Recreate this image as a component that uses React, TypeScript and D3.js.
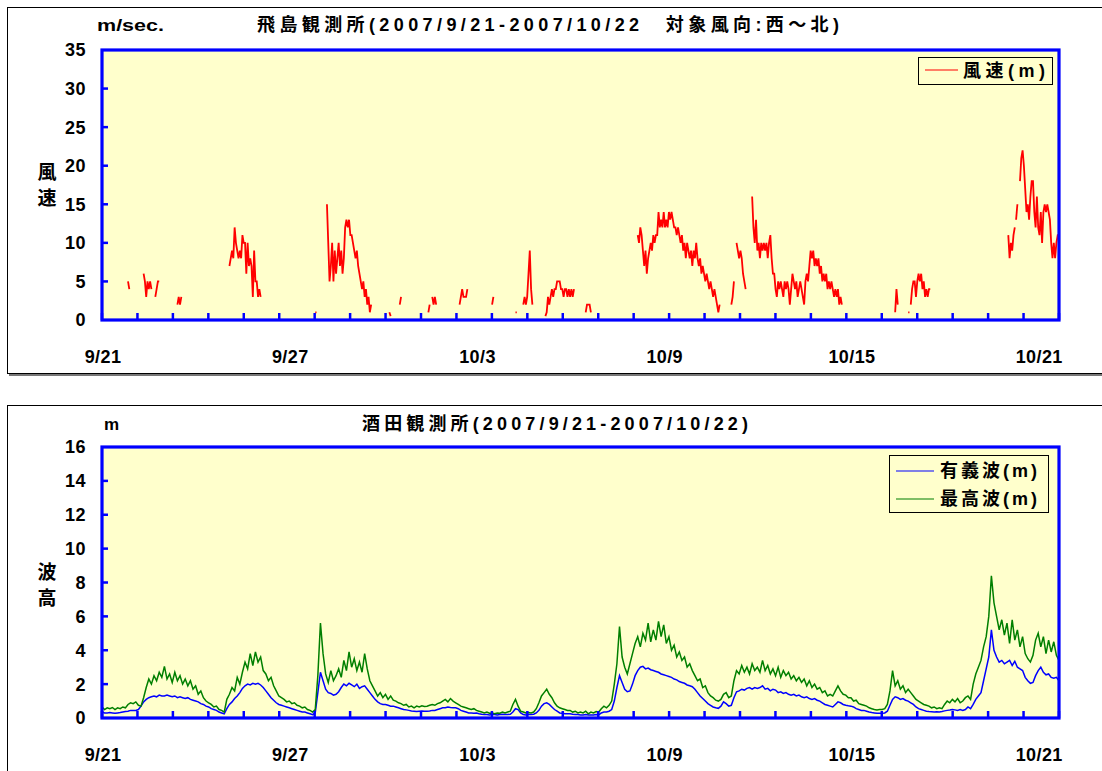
import React from 'react';
import * as d3 from 'd3';

// ---------- data ----------
const HOURS_END = 736; // hours from 2007/9/21 00:00 shown on the axis
const dateLabels = ['9/21', '9/27', '10/3', '10/9', '10/15', '10/21'];
const dateLabelHours = [0, 144, 288, 432, 576, 720];
const windTicks = [0, 5, 10, 15, 20, 25, 30, 35];
const waveTicks = [0, 2, 4, 6, 8, 10, 12, 14, 16];
const TICK_INTERVALS = 27;

// wind speed (m/s), hourly, only for the target wind direction: [startHour, values]
const windSegments: [number, number[]][] = [
  [20, [5, 4]],
  [32, [6, 5, 3, 5, 4, 5, 4]],
  [41, [3, 4, 5, 5]],
  [58, [2, 3, 2, 3]],
  [98, [7, 8, 9, 8, 12, 10, 9, 8, 9, 8, 11, 10, 10, 6, 10, 7, 8, 7, 3, 9, 5, 5, 3, 4, 3]],
  [164, [1, 1]],
  [173, [15, 10, 5, 7, 10, 5, 9, 6, 8, 10, 7, 9, 6, 8, 12, 13, 12, 13, 11, 11, 10, 9, 8, 9, 7, 6, 5, 4, 5, 3, 4, 2, 3, 1, 2]],
  [221, [1, 0.5]],
  [229, [2, 3]],
  [251, [1, 2]],
  [254, [3, 2, 3, 2]],
  [275, [2, 3, 4, 3, 3, 3, 4]],
  [300, [2, 3]],
  [318, [1, 1]],
  [324, [2, 3, 2, 3, 6, 9, 4, 2]],
  [341, [0.5, 1, 3, 2, 3, 4, 3, 4, 4, 5, 5, 5, 4, 4, 3, 4, 4, 3, 4, 3, 4, 3, 4]],
  [372, [1, 2, 2, 2, 1]],
  [412, [11, 10, 12, 11, 9, 7, 9, 6, 8, 9, 10, 9, 11, 10, 11, 11, 14, 12, 13, 12, 14, 12, 13, 12, 14, 13, 14, 13, 12, 12, 11, 12, 11, 10, 11, 9, 10, 8, 10, 9, 8, 9, 7, 9, 8, 10, 8, 7, 8, 6, 7, 6, 5, 6, 5, 4, 5, 4, 3, 4, 3, 2, 1, 2]],
  [484, [2, 3, 5]],
  [488, [10, 9, 8, 9, 8, 6, 5, 4]],
  [500, [16, 12, 10, 13, 9, 10, 8, 10, 9, 10, 9, 10, 8, 10, 11, 8, 6,
    6, 4, 3, 5, 4, 5, 4, 3, 5, 4, 5, 4, 2, 4, 6, 5, 4, 5, 3, 4, 5, 4, 3, 2, 5, 6, 5,
    7, 9, 8, 9, 7, 8, 7, 8, 6, 7, 5, 6,
    5, 6, 4, 5, 4, 5, 4, 3, 4, 3, 4, 2, 3, 2]],
  [610, [1, 4, 2]],
  [620, [1, 1]],
  [622, [2, 4, 5, 5, 3, 5, 6, 5, 6, 4, 5, 3, 4, 3, 4, 4]],
  [697, [11, 8, 10, 9, 11, 12]],
  [703, [13, 15]],
  [706, [18, 21, 22, 20, 17, 14, 15, 13, 16, 18, 18, 14, 12, 16, 12, 11, 14, 10, 14, 15, 14, 15, 14, 13, 10, 8, 10, 8, 10, 11, 11]],
];

// significant wave height (m), every 2 hours from 9/21 00:00
const sigWave: number[] = [
  0.35, 0.3, 0.3, 0.32, 0.3, 0.28, 0.3, 0.32, 0.35, 0.38, 0.4, 0.45,
  0.45, 0.45, 0.5, 0.7, 0.95, 1.1, 1.2, 1.25, 1.3, 1.25, 1.35, 1.3,
  1.3, 1.35, 1.3, 1.25, 1.3, 1.2, 1.25, 1.2, 1.15, 1.2, 1.1, 1.05,
  1.0, 0.95, 0.85, 0.8, 0.7, 0.65, 0.55, 0.5, 0.45, 0.35, 0.3, 0.25,
  0.55, 0.8, 0.95, 1.15, 1.3, 1.5, 1.75, 1.9, 2.0, 1.95, 2.05, 2.0,
  2.05, 1.95, 1.8, 1.6, 1.4, 1.2, 1.05, 0.9, 0.8, 0.75, 0.7, 0.65,
  0.6, 0.55, 0.5, 0.45, 0.4, 0.35, 0.35, 0.3, 0.25, 0.2, 0.3, 1.5,
  2.7, 2.2, 1.7, 1.5, 1.45, 1.35, 1.4, 1.55, 1.8, 2.0, 1.9, 2.05,
  1.95, 1.85, 2.0, 1.75, 1.85, 1.9, 1.7, 1.5, 1.3, 1.1, 0.95, 0.85,
  0.8, 0.8, 0.75, 0.7, 0.7, 0.65, 0.6, 0.55, 0.5, 0.48, 0.45, 0.42,
  0.4, 0.38, 0.4, 0.42, 0.4, 0.4, 0.42, 0.45, 0.45, 0.5, 0.55, 0.6,
  0.6, 0.65, 0.62, 0.6, 0.6, 0.55, 0.45, 0.4, 0.35, 0.3, 0.3, 0.28,
  0.3, 0.25, 0.22, 0.2, 0.2, 0.18, 0.2, 0.2, 0.18, 0.2, 0.22, 0.2,
  0.2, 0.22, 0.35, 0.55, 0.5, 0.3, 0.2, 0.18, 0.2, 0.2, 0.22, 0.3,
  0.45, 0.7, 0.85, 0.9, 0.8, 0.65, 0.5, 0.4, 0.3, 0.28, 0.25, 0.25,
  0.25, 0.22, 0.2, 0.2, 0.18, 0.18, 0.2, 0.18, 0.17, 0.18, 0.2, 0.18,
  0.3, 0.35, 0.35, 0.4, 0.5, 1.0, 1.8, 2.5, 2.1, 1.7, 1.55, 1.6,
  2.0, 2.5, 2.8, 3.0, 3.05, 2.9, 2.95, 2.85, 2.8, 2.75, 2.7, 2.6,
  2.55, 2.5, 2.45, 2.4, 2.3, 2.25, 2.15, 2.1, 2.05, 1.95, 1.9, 1.85,
  1.7, 1.5, 1.3, 1.15, 1.0, 0.85, 0.75, 0.65, 0.6, 0.57, 0.7, 0.95,
  0.85, 0.7, 0.75, 1.2, 1.55, 1.6, 1.7, 1.65, 1.75, 1.8, 1.7, 1.8,
  1.75, 1.8, 1.9, 1.7, 1.75, 1.6, 1.7, 1.65, 1.5, 1.55, 1.45, 1.5,
  1.4, 1.35, 1.4, 1.3, 1.35, 1.25, 1.2, 1.25, 1.15, 1.1, 1.15, 1.05,
  1.0, 0.9, 0.8, 0.75, 0.7, 0.65, 0.8, 0.95, 0.9, 0.8, 0.75, 0.72,
  0.7, 0.65, 0.55, 0.5, 0.45, 0.45, 0.4, 0.35, 0.32, 0.3, 0.28, 0.28,
  0.28, 0.3, 0.4, 0.75, 1.1, 1.25, 1.2, 1.1, 1.15, 1.05, 1.0, 0.9,
  0.8, 0.65, 0.55, 0.5, 0.45, 0.4, 0.38, 0.37, 0.35, 0.37, 0.35, 0.38,
  0.42, 0.45, 0.47, 0.5, 0.48, 0.45, 0.5, 0.45, 0.5, 0.65, 0.55, 0.8,
  1.1, 1.3, 1.5, 2.2, 2.9, 3.6, 5.2, 4.0, 3.6, 3.3, 3.4, 3.2,
  3.3, 3.4, 3.1, 3.35, 3.0, 2.9, 2.8, 2.4, 2.2, 2.05, 2.1, 2.5,
  2.8, 3.0, 2.7, 2.55, 2.6, 2.4, 2.35, 2.4, 2.2,
];

// maximum wave height (m), every 2 hours from 9/21 00:00
const maxWave: number[] = [
  0.65, 0.5, 0.6, 0.55, 0.62, 0.5, 0.6, 0.55, 0.65, 0.6, 0.8, 0.9,
  0.85, 0.95, 0.75, 0.7, 1.2, 1.8, 2.3, 2.0, 2.5, 2.2, 2.7, 2.4,
  3.05, 2.3, 2.6, 2.1, 2.7, 2.2, 2.5, 2.0, 2.3, 1.9, 2.2, 1.7,
  1.9, 1.4, 1.6, 1.2, 1.0, 0.9, 0.8, 0.65, 0.7, 0.5, 0.45, 0.35,
  1.1, 1.4, 1.8, 1.6, 2.4, 2.0, 2.7, 3.3, 2.9, 3.8, 3.1, 3.9,
  3.3, 3.6, 2.8, 2.6, 2.2, 2.4, 1.9, 1.6, 1.3, 1.2, 1.1, 0.95,
  1.0, 0.85, 0.9, 0.75, 0.7, 0.6, 0.65, 0.5, 0.45, 0.35, 0.5, 2.5,
  5.6, 3.8, 2.6, 2.1, 2.8, 2.2, 2.5, 2.9, 2.4, 3.4, 2.8, 3.9,
  3.0, 3.5, 2.8, 3.3, 2.7, 3.8, 2.9, 2.2, 1.9, 1.6, 1.3, 1.5,
  1.2, 1.4, 1.1, 1.3, 1.05, 1.0, 0.9, 0.85, 0.75, 0.8, 0.65, 0.7,
  0.6, 0.7, 0.65, 0.72, 0.68, 0.7, 0.75, 0.8, 0.75, 0.85, 0.9, 1.0,
  1.1, 0.95, 1.15, 1.0, 0.9, 0.8, 0.7, 0.65, 0.6, 0.55, 0.5, 0.55,
  0.45, 0.4, 0.35, 0.3, 0.35, 0.28, 0.3, 0.25, 0.3, 0.28, 0.35, 0.3,
  0.35, 0.4, 0.8, 1.1, 0.7, 0.4, 0.35, 0.3, 0.32, 0.3, 0.35, 0.55,
  0.9, 1.3, 1.5, 1.7, 1.4, 1.2, 0.9, 0.7, 0.6, 0.55, 0.5, 0.45,
  0.45, 0.35, 0.4, 0.3, 0.35, 0.3, 0.4, 0.25, 0.35, 0.3, 0.38, 0.35,
  0.55, 0.7, 0.6, 0.75, 1.0, 2.0, 3.2, 5.4, 3.6, 3.0, 2.6, 3.2,
  3.8, 4.4, 4.8, 4.2, 5.0, 4.6, 5.6, 4.5, 5.2, 4.6, 5.7, 4.8,
  5.5, 4.4, 4.8, 4.0, 4.3, 3.6, 3.9, 3.4, 3.6, 3.0, 3.2, 2.8,
  2.5, 2.2, 2.3, 1.8, 1.9, 1.5, 1.3, 1.2, 1.05, 1.0, 1.1, 1.4,
  1.5, 1.2, 1.3, 2.2, 2.8, 2.6, 3.1, 2.7, 3.0, 2.6, 3.2, 2.8,
  3.0, 2.7, 3.4, 2.8, 3.1, 2.6, 2.9, 2.5, 3.0, 2.4, 2.8, 2.5,
  2.7, 2.3, 2.5, 2.2, 2.4, 2.1, 2.3, 1.9, 2.2, 1.8, 2.0, 1.7,
  1.8, 1.5, 1.6, 1.3, 1.4, 1.3, 1.6, 1.9, 1.6, 1.4, 1.35, 1.2,
  1.2, 1.0, 1.05, 0.85, 0.8, 0.75, 0.7, 0.6, 0.55, 0.5, 0.48, 0.5,
  0.5, 0.55, 0.8, 1.6, 2.8, 1.9, 2.2, 1.7, 1.9, 1.5, 1.7, 1.5,
  1.3, 1.1, 1.0, 0.9, 0.8, 0.75, 0.7, 0.6, 0.65, 0.55, 0.6, 0.55,
  0.8, 1.0, 0.9, 1.1, 0.95, 1.15, 0.9, 1.0, 1.2, 1.3, 1.1, 2.0,
  2.6, 3.0, 3.4, 4.2, 4.8, 6.0, 8.4, 6.8, 6.0, 5.2, 5.8, 4.9,
  5.6, 4.4, 5.8, 4.6, 5.2, 4.2, 4.8, 3.8, 3.5, 3.3, 3.7, 4.6,
  5.0, 4.2, 4.8, 3.8, 4.6, 3.9, 4.5, 3.7, 3.4,
];

// ---------- drawing ----------
const LAT = "'Liberation Sans', Arial, 'Noto Sans CJK JP', sans-serif";
const CJK = "'Noto Sans CJK JP', sans-serif";
const PLOT_BG = '#FFFFCC';
const AXIS_BLUE = '#0000FF';

type Pt = [number, number];

export default function App() {
  const left = 102;
  const right = 1059;
  const x = d3.scaleLinear().domain([0, HOURS_END]).range([left, right]);
  const yW = d3.scaleLinear().domain([0, 35]).range([320, 50]);
  const yH = d3.scaleLinear().domain([0, 16]).range([718, 447]);
  const tickHours = d3.range(0, TICK_INTERVALS + 1).map((k) => (k * HOURS_END) / TICK_INTERVALS);

  const windLine = d3.line<Pt>().x((d) => x(d[0])).y((d) => yW(d[1]));
  const waveLine = d3.line<Pt>().x((d) => x(d[0])).y((d) => yH(d[1]));

  const sigPts: Pt[] = sigWave.map((v, i) => [i * 2, v]);
  const maxPts: Pt[] = maxWave.map((v, i) => [i * 2, v]);

  const panel = (
    key: string,
    y: d3.ScaleLinear<number, number>,
    ticks: number[],
    clipId: string,
    content: React.ReactNode,
  ) => {
    const [y0, y1] = y.range();
    const top = Math.min(y0, y1);
    const bottom = Math.max(y0, y1);
    const tmax = ticks[ticks.length - 1];
    return (
      <g key={key}>
        <clipPath id={clipId}>
          <rect x={left} y={top} width={right - left} height={bottom - top} />
        </clipPath>
        <rect x={left} y={top} width={right - left} height={bottom - top} fill={PLOT_BG} />
        <g clipPath={`url(#${clipId})`}>{content}</g>
        {ticks.filter((t) => t !== 0 && t !== tmax).map((t) => (
          <line key={`yt${t}`} x1={left} x2={left + 6} y1={y(t)} y2={y(t)} stroke={AXIS_BLUE} strokeWidth={2.5} />
        ))}
        {tickHours.map((h, i) => (
          <line key={`xt${i}`} x1={x(h)} x2={x(h)} y1={bottom} y2={bottom - 7} stroke={AXIS_BLUE} strokeWidth={2.5} />
        ))}
        <rect x={left} y={top} width={right - left} height={bottom - top} fill="none" stroke={AXIS_BLUE} strokeWidth={3.2} />
        {ticks.map((t) => (
          <text key={`yl${t}`} x={86} y={y(t)} dy="0.36em" textAnchor="end" fontFamily={LAT} fontWeight="bold" fontSize={18} letterSpacing={0.5}>
            {t}
          </text>
        ))}
        {dateLabels.map((lab, i) => (
          <text key={`xl${lab}`} x={x(dateLabelHours[i]) + 1} y={bottom + 43} textAnchor="middle" fontFamily={LAT} fontWeight="bold" fontSize={18} letterSpacing={0.4}>
            {lab}
          </text>
        ))}
      </g>
    );
  };

  return (
    <svg width={1102} height={771} style={{ position: 'absolute', left: 0, top: 0, background: '#fff' }}>
      <rect x={0} y={0} width={1102} height={771} fill="#fff" />
      {/* chart frames */}
      <rect x={7.5} y={7.5} width={1110} height={366} fill="#fff" stroke="#000" strokeWidth={1} />
      <line x1={9} x2={1102} y1={375} y2={375} stroke="#777" strokeWidth={2} />
      <rect x={7.5} y={405.5} width={1110} height={380} fill="#fff" stroke="#000" strokeWidth={1} />

      {/* top: wind speed */}
      {panel(
        'wind',
        yW,
        windTicks,
        'clipWind',
        windSegments.map(([start, vals], i) => (
          <path key={i} d={windLine(vals.map((v, j) => [start + j, v] as Pt)) || ''} fill="none" stroke="#FF0000" strokeWidth={1.8} />
        )),
      )}
      <text x={97} y={31} fontFamily={LAT} fontWeight="bold" fontSize={17} textLength={67} lengthAdjust="spacingAndGlyphs">m/sec.</text>
      <text x={257} y={31} fontFamily={LAT} fontWeight="bold" fontSize={18} textLength={582} lengthAdjust="spacing">
        飛島観測所(2007/9/21-2007/10/22　対象風向:西～北)
      </text>
      <text x={47} y={172} textAnchor="middle" dy="0.35em" fontFamily={CJK} fontWeight="bold" fontSize={19}>風</text>
      <text x={47} y={198} textAnchor="middle" dy="0.35em" fontFamily={CJK} fontWeight="bold" fontSize={19}>速</text>
      <rect x={918.5} y={57.5} width={134} height={27} fill={PLOT_BG} stroke="#000" strokeWidth={1} />
      <line x1={925} x2={958} y1={70} y2={70} stroke="#FF0000" strokeWidth={1.2} />
      <text x={963} y={77} fontFamily={LAT} fontWeight="bold" fontSize={18} textLength={82} lengthAdjust="spacing">風速(m)</text>

      {/* bottom: wave height */}
      {panel(
        'wave',
        yH,
        waveTicks,
        'clipWave',
        <>
          <path d={waveLine(sigPts) || ''} fill="none" stroke="#0000FF" strokeWidth={1.5} />
          <path d={waveLine(maxPts) || ''} fill="none" stroke="#007F00" strokeWidth={1.5} />
        </>,
      )}
      <text x={104} y={430} fontFamily={LAT} fontWeight="bold" fontSize={17}>m</text>
      <text x={362} y={430} fontFamily={LAT} fontWeight="bold" fontSize={18} textLength={386} lengthAdjust="spacing">
        酒田観測所(2007/9/21-2007/10/22)
      </text>
      <text x={47} y={572} textAnchor="middle" dy="0.35em" fontFamily={CJK} fontWeight="bold" fontSize={19}>波</text>
      <text x={47} y={598} textAnchor="middle" dy="0.35em" fontFamily={CJK} fontWeight="bold" fontSize={19}>高</text>
      <rect x={889.5} y={455.5} width={159} height={57} fill={PLOT_BG} stroke="#000" strokeWidth={1} />
      <line x1={896} x2={934} y1={471} y2={471} stroke="#0000FF" strokeWidth={1.2} />
      <text x={940} y={477} fontFamily={LAT} fontWeight="bold" fontSize={18} textLength={97} lengthAdjust="spacing">有義波(m)</text>
      <line x1={896} x2={934} y1={499} y2={499} stroke="#007F00" strokeWidth={1.2} />
      <text x={940} y={505} fontFamily={LAT} fontWeight="bold" fontSize={18} textLength={97} lengthAdjust="spacing">最高波(m)</text>
    </svg>
  );
}
